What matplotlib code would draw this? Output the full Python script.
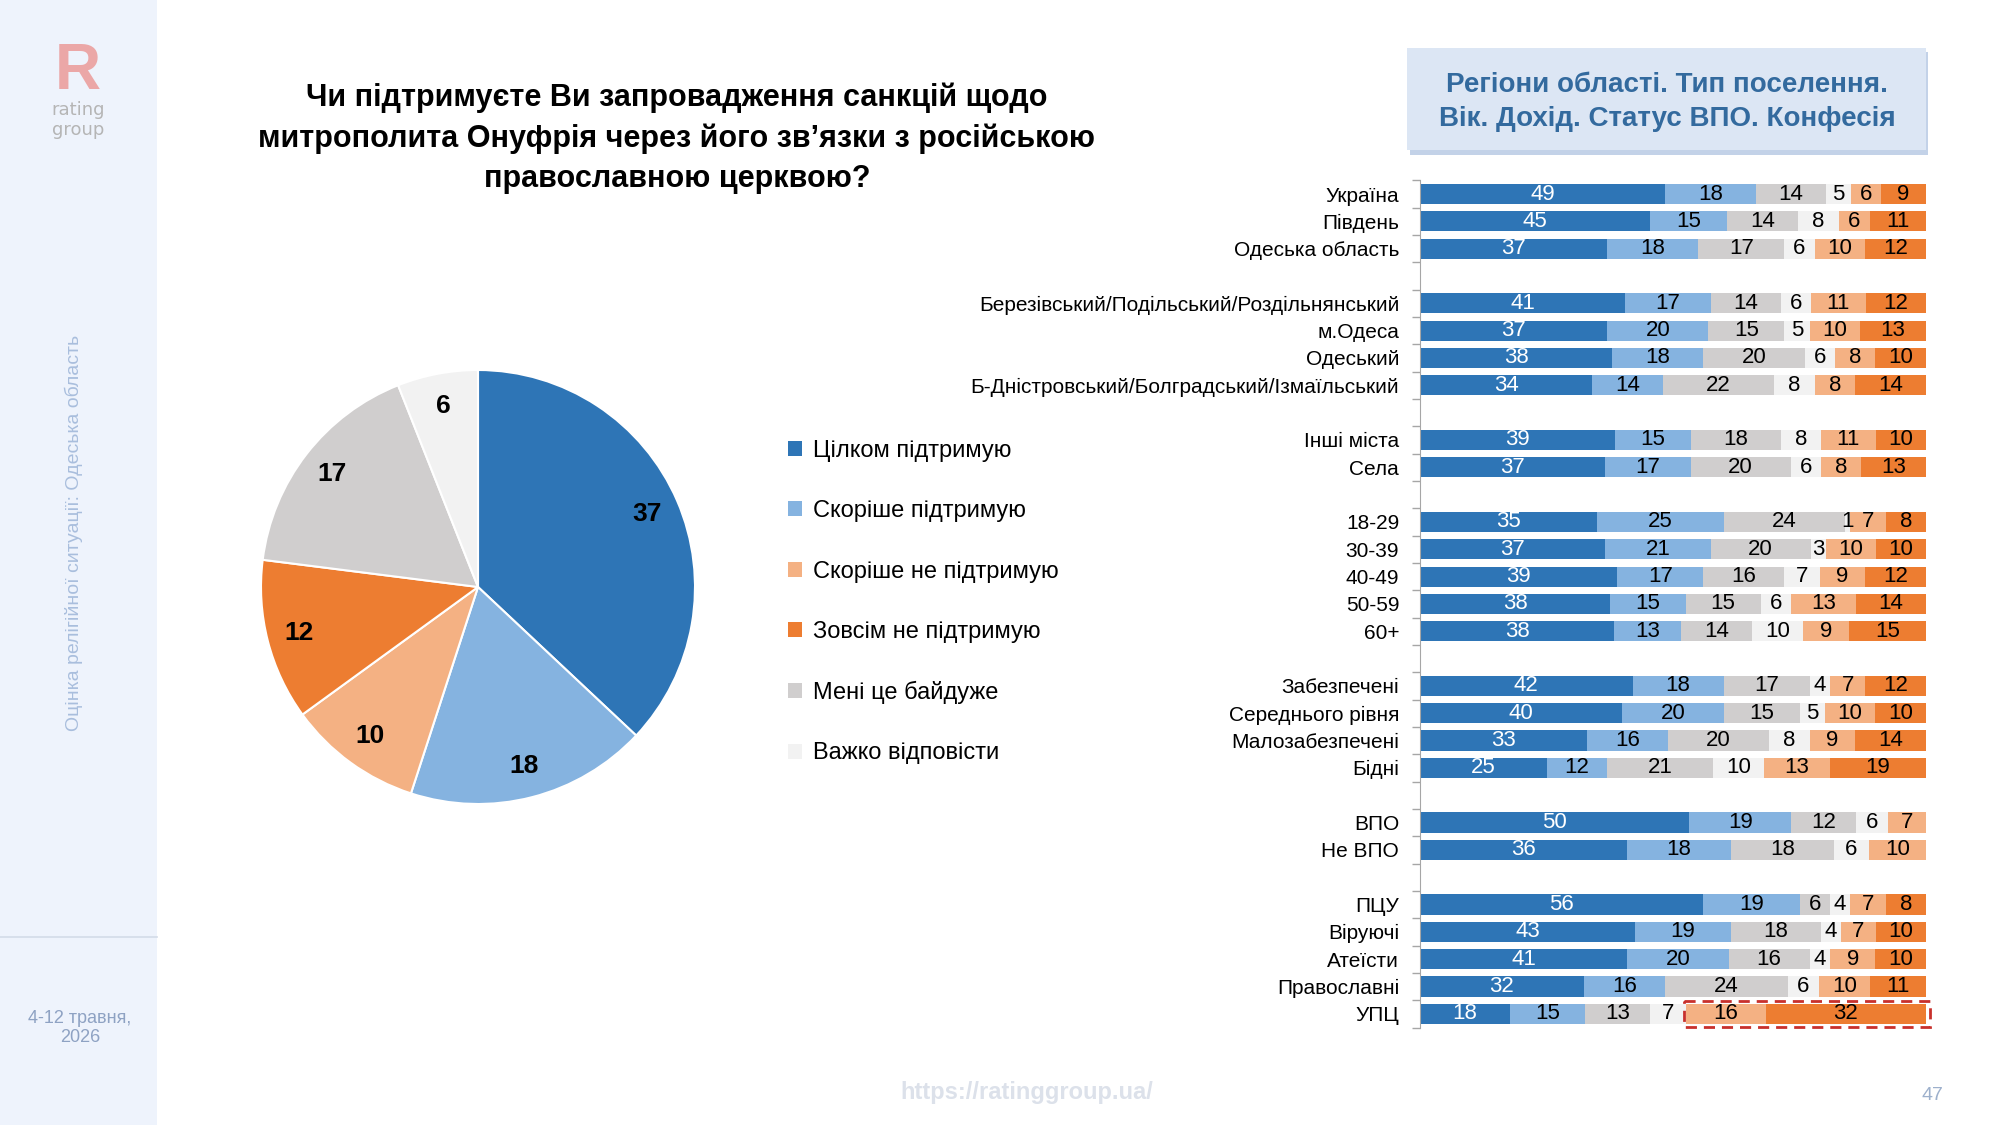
import matplotlib
matplotlib.use("Agg")
import matplotlib.pyplot as plt
from matplotlib.patches import Rectangle, Patch
import numpy as np

NARROW = ['Liberation Sans Narrow', 'Liberation Sans', 'DejaVu Sans']
plt.rcParams['font.family'] = NARROW

# ---- data ----
answers = ['Цілком підтримую', 'Скоріше підтримую', 'Скоріше не підтримую',
           'Зовсім не підтримую', 'Мені це байдуже', 'Важко відповісти']
pie_vals = [37, 18, 10, 12, 17, 6]

colors = {'Цілком підтримую': '#2E75B6', 'Скоріше підтримую': '#85B3E0',
          'Скоріше не підтримую': '#F4B183', 'Зовсім не підтримую': '#ED7D31',
          'Мені це байдуже': '#D0CECE', 'Важко відповісти': '#F2F2F2'}

# bar order: full support, rather support, indifferent, hard to say, rather not, not at all
bar_series = ['Цілком підтримую', 'Скоріше підтримую', 'Мені це байдуже',
              'Важко відповісти', 'Скоріше не підтримую', 'Зовсім не підтримую']

groups = ['Україна', 'Південь', 'Одеська область', '',
          'Березівський/Подільський/Роздільнянський', 'м.Одеса', 'Одеський',
          'Б-Дністровський/Болградський/Ізмаїльський', '',
          'Інші міста', 'Села', '',
          '18-29', '30-39', '40-49', '50-59', '60+', '',
          'Забезпечені', 'Середнього рівня', 'Малозабезпечені', 'Бідні', '',
          'ВПО', 'Не ВПО', '',
          'ПЦУ', 'Віруючі', 'Атеїсти', 'Православні', 'УПЦ']

full_sup = [49, 45, 37, 0, 41, 37, 38, 34, 0, 39, 37, 0, 35, 37, 39, 38, 38, 0, 42, 40, 33, 25, 0, 50, 36, 0, 56, 43, 41, 32, 18]
rather_sup = [18, 15, 18, 0, 17, 20, 18, 14, 0, 15, 17, 0, 25, 21, 17, 15, 13, 0, 18, 20, 16, 12, 0, 19, 18, 0, 19, 19, 20, 16, 15]
indiff = [14, 14, 17, 0, 14, 15, 20, 22, 0, 18, 20, 0, 24, 20, 16, 15, 14, 0, 17, 15, 20, 21, 0, 12, 18, 0, 6, 18, 16, 24, 13]
hard = [5, 8, 6, 0, 6, 5, 6, 8, 0, 8, 6, 0, 1, 3, 7, 6, 10, 0, 4, 5, 8, 10, 0, 6, 6, 0, 4, 4, 4, 6, 7]
rather_not = [6, 6, 10, 0, 11, 10, 8, 8, 0, 11, 8, 0, 7, 10, 9, 13, 9, 0, 7, 10, 9, 13, 0, 7, 10, 0, 7, 7, 9, 10, 16]
not_at_all = [9, 11, 12, 0, 12, 13, 10, 14, 0, 10, 13, 0, 8, 10, 12, 14, 15, 0, 12, 10, 14, 19, 0, 0, 0, 0, 8, 10, 10, 11, 32]

W, H = 2000, 1125
fig = plt.figure(figsize=(20, 11.25), dpi=100)
fig.patch.set_facecolor('white')

def fx(x): return x / W
def fy(y): return 1 - y / H

# ---- sidebar ----
fig.patches.append(Rectangle((0, 0), fx(157), 1, transform=fig.transFigure,
                             facecolor='#EEF3FC', edgecolor='none', zorder=0))
fig.add_artist(plt.Line2D([0, fx(157)], [fy(937), fy(937)], transform=fig.transFigure,
                          color='#D3DBE8', lw=1.2))
fig.text(fx(78), fy(72), 'R', fontsize=46, fontweight='bold', color='#EBA7A7',
         ha='center', va='center', family=['Liberation Sans', 'DejaVu Sans'])
fig.text(fx(78), fy(110), 'rating', fontsize=13, color='#B5B5B5', ha='center', va='center',
         family=['DejaVu Sans'])
fig.text(fx(78), fy(130), 'group', fontsize=13, color='#B5B5B5', ha='center', va='center',
         family=['DejaVu Sans'])
fig.text(fx(74), fy(533), 'Оцінка релігійної ситуації: Одеська область', rotation=90,
         fontsize=14, color='#A9BEDD', ha='center', va='center')
fig.text(fx(80), fy(1028), '4-12 травня,\n2026', fontsize=13, color='#8EA2C3',
         ha='center', va='center', linespacing=1.2, family=['Liberation Sans', 'DejaVu Sans'])

# ---- title ----
fig.text(fx(677), fy(138),
         'Чи підтримуєте Ви запровадження санкцій щодо\n'
         'митрополита Онуфрія через його зв’язки з російською\n'
         'православною церквою?',
         fontsize=22, fontweight='bold', ha='center', va='center', linespacing=1.45)

# ---- pie ----
cx, cy, r = 478, 587, 217
pax = fig.add_axes([fx(cx - r), fy(cy + r), 2 * r / W, 2 * r / H])
wedges, _, autotexts = pax.pie(pie_vals, colors=[colors[a] for a in answers], startangle=90,
                               counterclock=False, autopct='%d', pctdistance=0.85,
                               wedgeprops=dict(edgecolor='white', linewidth=1.5),
                               textprops=dict(fontsize=19, fontweight='bold', color='black'))
for t, v in zip(autotexts, pie_vals):
    t.set_text(str(v))
pax.set_xlim(-1, 1)
pax.set_ylim(-1, 1)
pax.set_aspect('equal')

# ---- legend ----
handles = [Patch(facecolor=colors[a], edgecolor='none', label=a) for a in answers]
fig.legend(handles=handles, loc='upper left', bbox_to_anchor=(fx(788), fy(440)),
           frameon=False, fontsize=17, handlelength=0.6, handleheight=0.6,
           handletextpad=0.45, labelspacing=1.62, borderaxespad=0, borderpad=0)

# ---- header box ----
fig.patches.append(Rectangle((fx(1410), fy(155)), fx(1928) - fx(1410), fy(52) - fy(155),
                             transform=fig.transFigure, facecolor='#B4C7E3',
                             edgecolor='none', alpha=0.8, zorder=1))
fig.patches.append(Rectangle((fx(1407), fy(150)), fx(1926) - fx(1407), fy(48) - fy(150),
                             transform=fig.transFigure, facecolor='#DCE6F4',
                             edgecolor='none', zorder=2))
fig.text(fx(1667), fy(102), 'Регіони області. Тип поселення.\nВік. Дохід. Статус ВПО. Конфесія',
         fontsize=20, fontweight='bold', color='#336A9E', ha='center', va='center',
         linespacing=1.45, zorder=3)

# ---- stacked bars ----
top_px, row_px = 194, 27.33
n = len(groups)
y0 = top_px - row_px / 2
y1 = y0 + n * row_px
bax = fig.add_axes([fx(1420), fy(y1), fx(1926) - fx(1420), (y1 - y0) / H])

series_vals = [full_sup, rather_sup, indiff, hard, rather_not, not_at_all]
data = np.array(series_vals, dtype=float)
totals = data.sum(axis=0)
totals[totals == 0] = 1
pct = data / totals * 100
ypos = np.arange(n)
left = np.zeros(n)
for k, name in enumerate(bar_series):
    bax.barh(ypos, pct[k], left=left, height=0.74, color=colors[name], edgecolor='none')
    for i in range(n):
        if data[k, i] > 0:
            bax.text(left[i] + pct[k, i] / 2, ypos[i], str(int(data[k, i])),
                     ha='center', va='center', fontsize=16,
                     color='white' if k == 0 else 'black')
    left = left + pct[k]

bax.set_xlim(0, 100)
bax.set_ylim(n - 0.5, -0.5)
bax.set_yticks(ypos)
bax.set_yticklabels(groups, fontsize=15)
bax.tick_params(axis='y', which='major', length=0, pad=15)
bax.set_yticks(np.arange(-0.5, n, 1.0), minor=True)
bax.tick_params(axis='y', which='minor', length=6, color='#A6A6A6', width=1)
bax.set_xticks([])
for s in ['top', 'right', 'bottom']:
    bax.spines[s].set_visible(False)
bax.spines['left'].set_color('#A6A6A6')
bax.patch.set_alpha(0)

# highlight for УПЦ
iu = groups.index('УПЦ')
start = pct[:4, iu].sum()
bax.add_patch(Rectangle((start - 0.4, iu - 0.48), 100.8 - start + 0.4, 0.96, fill=False,
                        edgecolor='#C8302C', linestyle=(0, (4, 2.5)), linewidth=2,
                        clip_on=False, zorder=5))

# ---- footer ----
fig.text(fx(1027), fy(1092), 'https://ratinggroup.ua/', fontsize=17, fontweight='bold',
         color='#DCE1EA', ha='center', va='center')
fig.text(fx(1932), fy(1096), '47', fontsize=14, color='#9DB0CC', ha='center', va='center')

fig.savefig('out.png', dpi=100)
